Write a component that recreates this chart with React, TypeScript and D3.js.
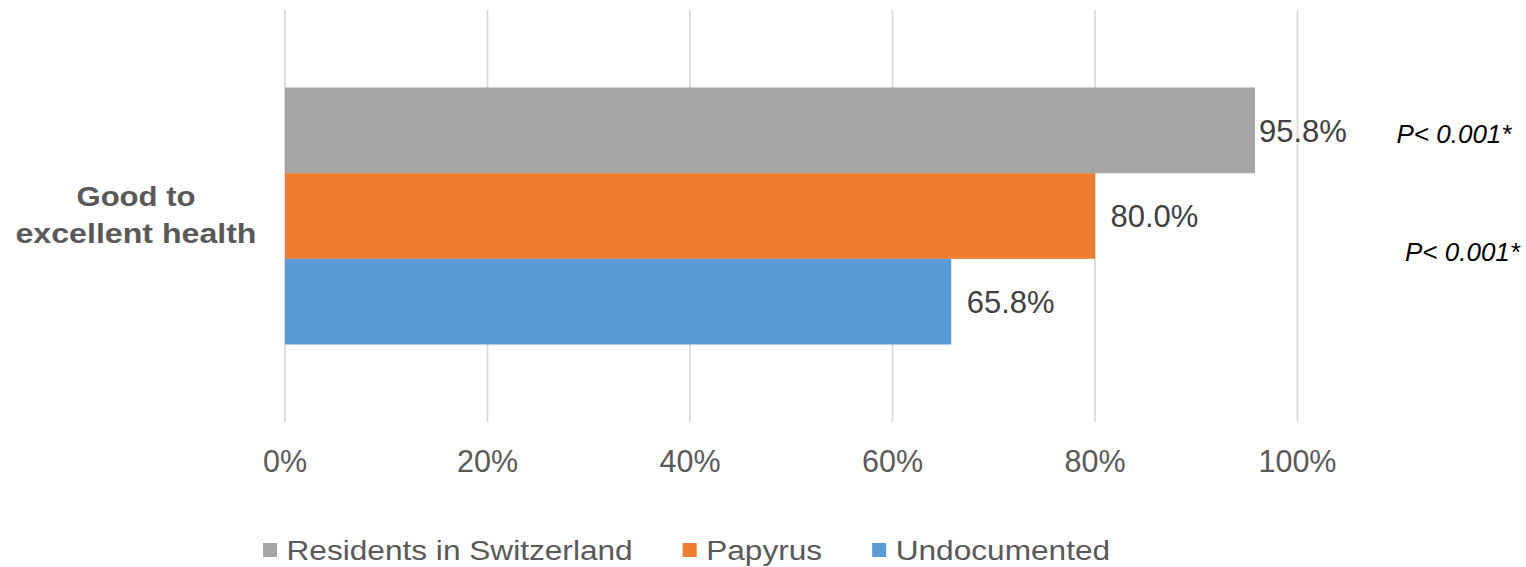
import React, { useEffect, useRef } from 'react';
import * as d3 from 'd3';

const categories = ['Good to excellent health'];
const categoryLines = [['Good to', 'excellent health']];
const seriesNames = ['Residents in Switzerland', 'Papyrus', 'Undocumented'];
const seriesColors = ['#a5a5a5', '#ed7d31', '#5b9bd5'];
const seriesValues = [0.958, 0.8, 0.658];
const valueLabels = ['95.8%', '80.0%', '65.8%'];
const tickValues = [0, 0.2, 0.4, 0.6, 0.8, 1.0];
const pLabels = ['P< 0.001*', 'P< 0.001*'];

const W = 1526;
const H = 567;
const FONT = '"Liberation Sans", Arial, sans-serif';

const App = () => {
  const ref = useRef<SVGSVGElement>(null);

  useEffect(() => {
    const svg = d3.select(ref.current);
    svg.selectAll('*').remove();

    // plot area
    const x = d3.scaleLinear().domain([0, 1]).range([285, 1297.5]);
    const yCat = d3.scaleBand().domain(categories).range([10, 422]).padding(0.2317);
    const ySer = d3.scaleBand().domain(seriesNames).range([0, yCat.bandwidth()]).padding(0);

    // gridlines
    svg.append('g')
      .selectAll('line')
      .data(tickValues)
      .join('line')
      .attr('x1', d => x(d)).attr('x2', d => x(d))
      .attr('y1', 10).attr('y2', 422)
      .attr('stroke', '#d9d9d9')
      .attr('stroke-width', 1.8);

    // tick labels
    svg.append('g')
      .selectAll('text')
      .data(tickValues)
      .join('text')
      .attr('x', d => x(d))
      .attr('y', 472)
      .attr('text-anchor', 'middle')
      .attr('font-family', FONT)
      .attr('font-size', 30.5)
      .attr('fill', '#595959')
      .text(d => d3.format('.0%')(d));

    // bars
    categories.forEach(cat => {
      const top = yCat(cat)!;
      const g = svg.append('g').attr('transform', `translate(0,${top})`);
      g.selectAll('rect')
        .data(seriesNames)
        .join('rect')
        .attr('x', x(0))
        .attr('y', d => ySer(d)!)
        .attr('width', (d, i) => x(seriesValues[i]) - x(0))
        .attr('height', ySer.bandwidth())
        .attr('fill', (d, i) => seriesColors[i]);

      // the top label sits tight against its bar (room for the P value)
      const labelGap = [4, 15.5, 15.5];
      g.selectAll('text.val')
        .data(seriesNames)
        .join('text')
        .attr('class', 'val')
        .attr('x', (d, i) => x(seriesValues[i]) + labelGap[i])
        .attr('y', d => ySer(d)! + ySer.bandwidth() / 2 + 11.5)
        .attr('font-family', FONT)
        .attr('font-size', 31)
        .attr('fill', '#404040')
        .text((d, i) => valueLabels[i]);

      // significance annotations
      const pY = [
        ySer(seriesNames[0])! + ySer.bandwidth() / 2 + 12.5,
        ySer(seriesNames[2])! + 2,
      ];
      const pX = [x(1) + 99, x(1) + 107.5];
      g.selectAll('text.p')
        .data(pLabels)
        .join('text')
        .attr('class', 'p')
        .attr('x', (d, i) => pX[i])
        .attr('y', (d, i) => pY[i])
        .attr('font-family', FONT)
        .attr('font-size', 26)
        .attr('font-style', 'italic')
        .attr('fill', '#000000')
        .text(d => d);

      // category label
      const mid = top + yCat.bandwidth() / 2;
      const lines = categoryLines[categories.indexOf(cat)];
      svg.append('text')
        .attr('text-anchor', 'middle')
        .attr('font-family', FONT)
        .attr('font-size', 28)
        .attr('font-weight', 'bold')
        .attr('fill', '#595959')
        .selectAll('tspan')
        .data(lines)
        .join('tspan')
        .attr('x', 136)
        .attr('y', (d, i) => mid - 10.5 + i * 37)
        .attr('textLength', d => (d === 'Good to' ? 119 : 241))
        .attr('lengthAdjust', 'spacingAndGlyphs')
        .text(d => d);
    });

    // legend (text a little wider than tall in the original)
    const legend = svg.append('g');
    const sx = 1.15;
    let lx = 263;
    seriesNames.forEach((name, i) => {
      legend.append('rect')
        .attr('x', lx).attr('y', 543)
        .attr('width', 14).attr('height', 14)
        .attr('fill', seriesColors[i]);
      const t = legend.append('text')
        .attr('font-family', FONT)
        .attr('font-size', 27.5)
        .attr('fill', '#595959')
        .attr('transform', `translate(${lx + 23.5},559.5) scale(${sx},1)`)
        .text(name);
      const w = (t.node() as SVGTextElement).getComputedTextLength() * sx;
      lx += 23.5 + w + 50;
    });
  }, []);

  return (
    <div style={{ position: 'absolute', left: 0, top: 0 }}>
      <svg ref={ref} width={W} height={H} style={{ display: 'block', background: '#fff' }} />
    </div>
  );
};

export default App;
